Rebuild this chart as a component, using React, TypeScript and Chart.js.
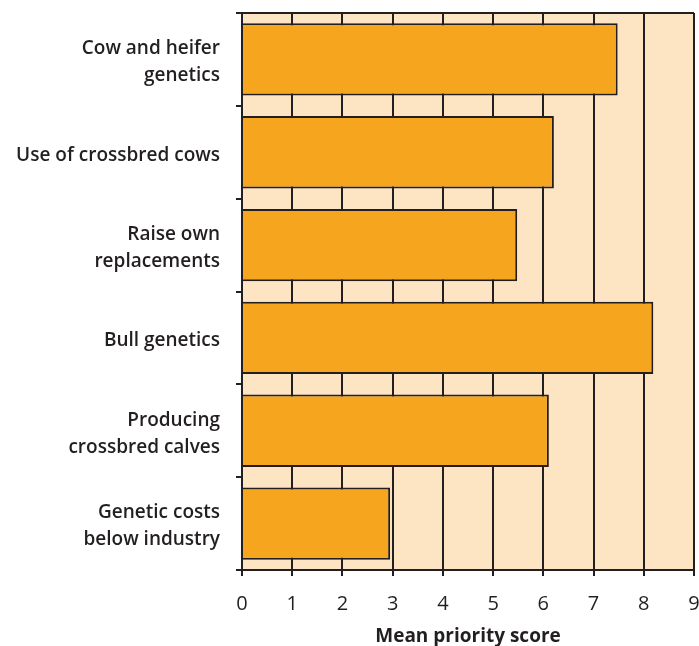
import React, { useEffect, useRef } from "react";
import { Chart, registerables } from "chart.js";

Chart.register(...registerables);

const categories: (string | string[])[] = [
  ["Cow and heifer", "genetics"],
  "Use of crossbred cows",
  ["Raise own", "replacements"],
  "Bull genetics",
  ["Producing", "crossbred calves"],
  ["Genetic costs", "below industry"],
];
const scores = [7.48, 6.21, 5.48, 8.19, 6.11, 2.95];
const xTicks = [0, 1, 2, 3, 4, 5, 6, 7, 8, 9];
const xTitle = "Mean priority score";

const INK = "#231f20";
const BAR = "#F6A51F";
const BG = "#FDE4C3";

export default function App() {
  const ref = useRef<HTMLCanvasElement | null>(null);
  useEffect(() => {
    if (!ref.current) return;
    const bgPlugin = {
      id: "bgPlugin",
      beforeDraw(chart: any) {
        const { ctx, chartArea } = chart;
        ctx.save();
        ctx.fillStyle = BG;
        ctx.fillRect(chartArea.left, chartArea.top, chartArea.right - chartArea.left, chartArea.bottom - chartArea.top);
        ctx.restore();
      },
      beforeDatasetsDraw(chart: any) {
        const { ctx, chartArea } = chart;
        ctx.save();
        ctx.strokeStyle = INK;
        ctx.lineWidth = 2;
        ctx.beginPath();
        ctx.moveTo(chartArea.left, chartArea.top);
        ctx.lineTo(chartArea.right, chartArea.top);
        ctx.stroke();
        ctx.restore();
      },
    };
    const chart = new Chart(ref.current, {
      type: "bar",
      data: {
        labels: categories as any,
        datasets: [
          {
            data: scores,
            backgroundColor: BAR,
            borderColor: INK,
            borderWidth: 2,
            barPercentage: 0.78,
            categoryPercentage: 1,
          },
        ],
      },
      plugins: [bgPlugin],
      options: {
        indexAxis: "y",
        animation: false,
        responsive: false,
        maintainAspectRatio: false,
        layout: { padding: { top: 13, right: 5, left: 0, bottom: 0 } },
        plugins: { legend: { display: false }, tooltip: { enabled: false } },
        scales: {
          x: {
            min: 0,
            max: 9,
            afterBuildTicks: (scale: any) => {
              scale.ticks = xTicks.map((v) => ({ value: v }));
            },
            afterFit: (scale: any) => {
              scale.height = 76;
              scale.paddingLeft = 0;
              scale.paddingRight = 0;
            },
            grid: {
              color: INK,
              lineWidth: 2,
              drawTicks: true,
              tickLength: 6,
              tickColor: INK,
            },
            border: { color: INK, width: 2 },
            ticks: {
              color: INK,
              padding: 16,
              font: { family: "Open Sans", size: 20, weight: "500" },
            },
            title: {
              display: true,
              text: xTitle,
              color: INK,
              padding: { top: 0, bottom: 0 },
              font: { family: "Open Sans", size: 19, weight: "bold", lineHeight: 1.0 },
            },
          },
          y: {
            offset: true,
            afterFit: (scale: any) => {
              scale.width = 242;
              scale.paddingTop = 0;
              scale.paddingBottom = 0;
            },
            grid: {
              offset: true,
              drawOnChartArea: false,
              drawTicks: true,
              tickLength: 6,
              tickColor: INK,
              lineWidth: 2,
              color: INK,
            },
            border: { color: INK, width: 2 },
            ticks: {
              color: INK,
              padding: 16,
              labelOffset: 3,
              font: { family: "Open Sans", size: 19, weight: "600", lineHeight: 1.42 },
            },
          },
        },
      },
    });
    return () => chart.destroy();
  }, []);
  return (
    <div style={{ position: "fixed", left: 0, top: 0, width: 699, height: 646, background: "#fff" }}>
      <canvas ref={ref} width={699} height={646} style={{ display: "block" }} />
    </div>
  );
}
